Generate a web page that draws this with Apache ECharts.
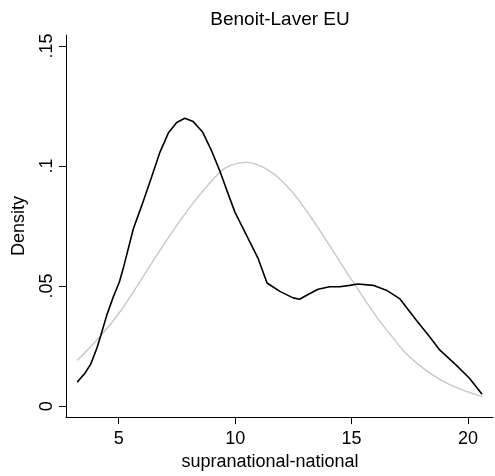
<!DOCTYPE html>
<html>
<head>
<meta charset="utf-8">
<script src="https://cdn.jsdelivr.net/npm/echarts@6/dist/echarts.min.js"></script>
<style>
  html, body { margin: 0; padding: 0; background: #fff; }
  #chart { width: 495px; height: 476px; }
</style>
</head>
<body>
<div id="chart"></div>
<script>
// Kernel density (black)
const kdeX = [3.22, 3.55, 3.8, 4.06, 4.23, 4.49, 4.77, 5.03, 5.2, 5.63, 5.99, 6.41, 6.77, 7.13, 7.49, 7.84, 8.2, 8.6, 8.99, 9.34, 9.7, 9.99, 10.49, 10.99, 11.37, 11.92, 12.49, 12.77, 13.13, 13.56, 14.06, 14.49, 14.92, 15.27, 15.92, 16.49, 17.06, 17.78, 18.35, 18.78, 19.49, 20.06, 20.6];
const kdeY = [0.0100, 0.0137, 0.0175, 0.0240, 0.0293, 0.0379, 0.0455, 0.0517, 0.0575, 0.0739, 0.0835, 0.0953, 0.1057, 0.1137, 0.1181, 0.1199, 0.1185, 0.1142, 0.1063, 0.0980, 0.0884, 0.0808, 0.0711, 0.0614, 0.0513, 0.0478, 0.0451, 0.0445, 0.0465, 0.0487, 0.0497, 0.0497, 0.0503, 0.0509, 0.0503, 0.0483, 0.0448, 0.0358, 0.0289, 0.0234, 0.0171, 0.0116, 0.0050];

// Normal density (gray)
const normX = [3.22, 4.23, 5.06, 5.77, 6.63, 7.49, 8.34, 9.34, 9.77, 10.49, 11.49, 12.35, 13.21, 14.06, 14.78, 15.21, 16.07, 16.63, 17.35, 18.21, 19.21, 20.6];
const normY = [0.0190, 0.0293, 0.0393, 0.0497, 0.0628, 0.0752, 0.0863, 0.0974, 0.1001, 0.1015, 0.0979, 0.0903, 0.0793, 0.0668, 0.0558, 0.0496, 0.0372, 0.0302, 0.0218, 0.0148, 0.0090, 0.0040];

const xTicks = [5, 10, 15, 20];
const yTicks = [0, 0.05, 0.1, 0.15];
const yTickLabels = ['0', '.05', '.1', '.15'];

const titleText = 'Benoit-Laver EU';
const xName = 'supranational-national';
const yName = 'Density';

const kdeData = kdeX.map((x, i) => [x, kdeY[i]]);
const normData = normX.map((x, i) => [x, normY[i]]);

const FONT = 'Liberation Sans, Arial, Helvetica, sans-serif';

const chart = echarts.init(document.getElementById('chart'), null, { renderer: 'canvas' });
chart.setOption({
  animation: false,
  backgroundColor: '#ffffff',
  title: {
    text: titleText,
    left: 280,
    top: 10,
    padding: 0,
    textAlign: 'center',
    textStyle: { fontFamily: FONT, fontSize: 19, fontWeight: 'normal', color: '#000' }
  },
  grid: { left: 66, right: 2, top: 35, bottom: 57, containLabel: false },
  xAxis: {
    type: 'value',
    min: 2.739,
    max: 21.07,
    name: xName,
    nameLocation: 'middle',
    nameGap: 33,
    nameTextStyle: { fontFamily: FONT, fontSize: 18, color: '#000', padding: [0, 19, 0, 0] },
    axisLine: { show: true, onZero: false, lineStyle: { color: '#000', width: 1 } },
    axisTick: {
      show: true, length: 7, lineStyle: { color: '#000', width: 1 },
      customValues: xTicks
    },
    axisLabel: {
      show: true, margin: 13, fontFamily: FONT, fontSize: 18, color: '#000',
      customValues: xTicks,
      formatter: v => String(v)
    },
    splitLine: { show: false }
  },
  yAxis: {
    type: 'value',
    min: -0.00456,
    max: 0.15456,
    name: yName,
    nameLocation: 'middle',
    nameGap: 38,
    nameRotate: 90,
    nameTextStyle: { fontFamily: FONT, fontSize: 18, color: '#000' },
    axisLine: { show: true, onZero: false, lineStyle: { color: '#000', width: 1 } },
    axisTick: {
      show: true, length: 7, lineStyle: { color: '#000', width: 1 },
      customValues: yTicks
    },
    axisLabel: {
      show: true, rotate: 90, margin: 10, fontFamily: FONT, fontSize: 18, color: '#000',
      customValues: yTicks,
      formatter: v => {
        const i = yTicks.findIndex(t => Math.abs(t - v) < 1e-9);
        return i >= 0 ? yTickLabels[i] : '';
      }
    },
    splitLine: { show: false }
  },
  series: [
    {
      type: 'line',
      name: 'normal',
      data: normData,
      smooth: 0.35,
      symbol: 'none',
      lineStyle: { color: '#c8c8c8', width: 1.4 },
      z: 2
    },
    {
      type: 'line',
      name: 'kdensity',
      data: kdeData,
      smooth: false,
      symbol: 'none',
      lineStyle: { color: '#000000', width: 1.6 },
      z: 3
    }
  ]
});
</script>
</body>
</html>
